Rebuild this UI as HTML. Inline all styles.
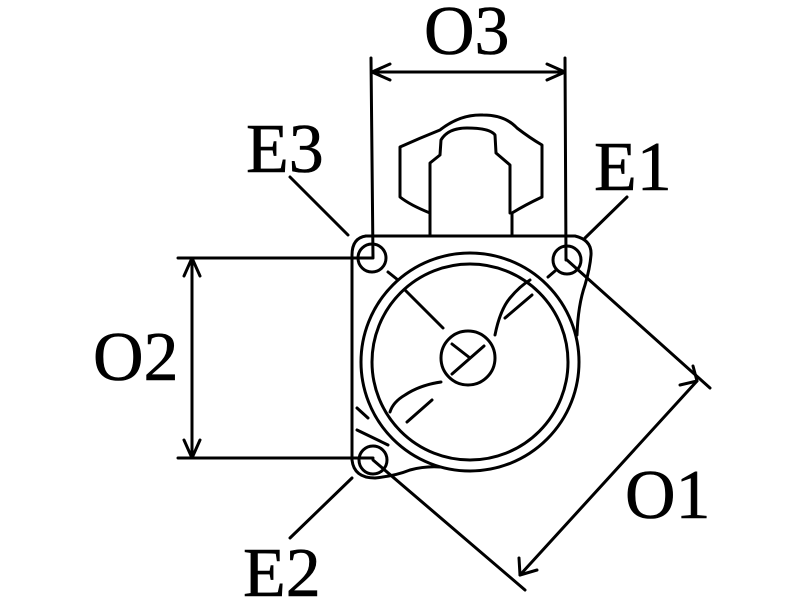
<!DOCTYPE html>
<html><head><meta charset="utf-8"><style>
html,body{margin:0;padding:0;background:#fff;width:800px;height:600px;overflow:hidden}
svg{display:block}
text{font-family:"Liberation Serif",serif;font-size:70px;fill:#000;stroke:#000;stroke-width:0.6}
</style></head><body>
<svg width="800" height="600" viewBox="0 0 800 600" xmlns="http://www.w3.org/2000/svg">
<g fill="none" stroke="#000" stroke-width="3" stroke-linecap="round" stroke-linejoin="round">
<line x1="371" y1="58" x2="373" y2="258"/>
<line x1="565" y1="58" x2="566" y2="260"/>
<line x1="372" y1="72" x2="565" y2="72"/>
<polyline points="390,64 372,72 390,80"/>
<polyline points="547,64 565,72 547,80"/>
<line x1="178" y1="258" x2="372" y2="258"/>
<line x1="178" y1="458" x2="373" y2="458"/>
<line x1="192" y1="258" x2="192" y2="458"/>
<polyline points="184,276 192,258 200,276"/>
<polyline points="184,440 192,458 200,440"/>
<line x1="567" y1="260" x2="710" y2="388"/>
<line x1="373" y1="460" x2="525" y2="590"/>
<line x1="520" y1="575" x2="697" y2="381"/>
<polyline points="519,558 520,575 537,570"/>
<polyline points="680,385 697,381 693,366"/>
<line x1="290" y1="177" x2="348" y2="235"/>
<line x1="627" y1="197" x2="585" y2="238"/>
<line x1="352" y1="478" x2="290" y2="538"/>
<path d="M430,236 L430,213 Q410,205 400,197 L400,147 Q420,138 440,130 Q460,114 483,115 Q505,115 517,128 Q530,138 542,145 L542,197 Q525,205 512,213 L512,236"/>
<path d="M430,213 L430,163 L440,155 L441,140 Q448,128 467,128 Q490,128 495,135 L496,153 L510,165 L510,213"/>
<path d="M366,236 L575,236 Q592,240 591,255 Q590,268 585,285 Q578,305 577,335"/>
<path d="M366,236 Q352,238 352,255 L352,460 Q354,478 375,478 Q395,476 410,470 Q425,466 440,467"/>
<circle cx="372" cy="258" r="14"/>
<circle cx="567" cy="260" r="14"/>
<circle cx="373" cy="460" r="14"/>
<circle cx="470" cy="362" r="109"/>
<circle cx="470" cy="362" r="98"/>
<circle cx="468" cy="358" r="27"/>
<line x1="452" y1="344" x2="470" y2="358"/>
<line x1="452" y1="374" x2="484" y2="346"/>
<line x1="405" y1="290" x2="443" y2="328"/>
<path d="M495,335 Q500,310 510,298 Q520,286 530,280"/>
<line x1="505" y1="318" x2="532" y2="295"/>
<path d="M441,382 Q420,385 405,395 Q393,402 390,412"/>
<line x1="407" y1="422" x2="432" y2="400"/>
<line x1="388" y1="272" x2="398" y2="280"/>
<line x1="548" y1="277" x2="555" y2="271"/>
<line x1="357" y1="408" x2="368" y2="418"/>
<line x1="357" y1="430" x2="388" y2="445"/>
</g>
<text x="424" y="54">O3</text>
<text x="246" y="172">E3</text>
<text x="594" y="190">E1</text>
<text x="93" y="380">O2</text>
<text x="625" y="518">O1</text>
<text x="243" y="596">E2</text>
</svg>
</body></html>
